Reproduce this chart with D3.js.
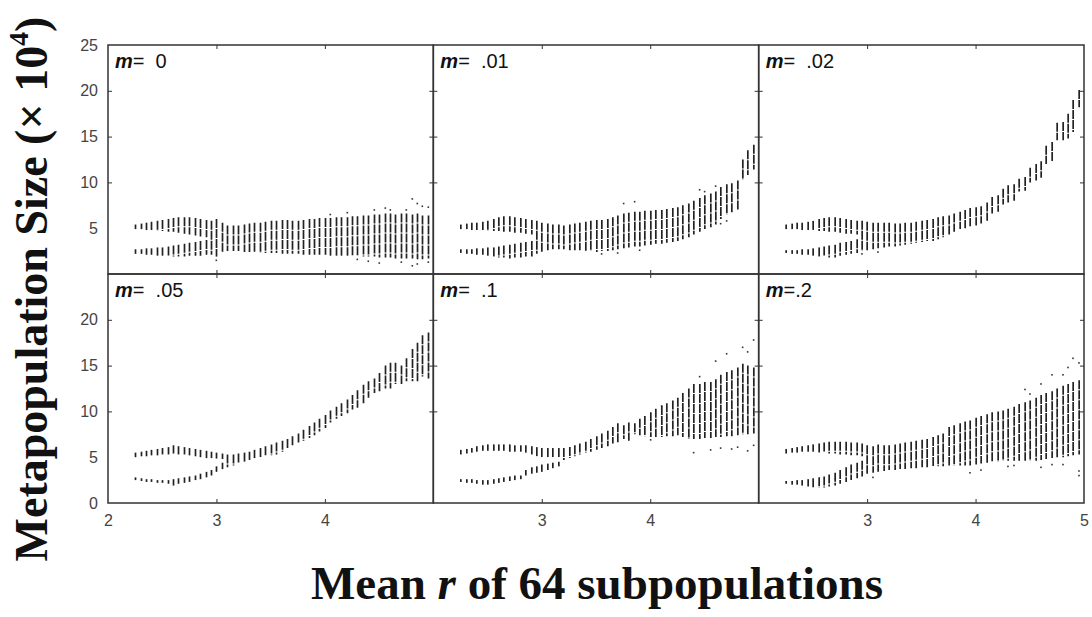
<!DOCTYPE html>
<html>
<head>
<meta charset="utf-8">
<script src="https://cdn.jsdelivr.net/npm/d3@7"></script>
<style>
	body { margin: 0; background: #fff; }
	.tick text { font-family: "Liberation Sans", Arial, sans-serif; font-size: 16px; fill: #444; }
	.tick line { stroke: #333; }
</style>
</head>
<body>
<svg id="chart" width="1092" height="617"></svg>
<script>

// mean r of the 64 subpopulations, one bar per value
const rValues = [2.25,2.30,2.35,2.40,2.45,2.50,2.55,2.60,2.65,2.70,2.75,2.80,2.85,2.90,2.95,3.00,3.05,3.10,3.15,3.20,3.25,3.30,3.35,3.40,3.45,3.50,3.55,3.60,3.65,3.70,3.75,3.80,3.85,3.90,3.95,4.00,4.05,4.10,4.15,4.20,4.25,4.30,4.35,4.40,4.45,4.50,4.55,4.60,4.65,4.70,4.75,4.80,4.85,4.90,4.95];

const migrationLabels = ['0', '.01', '.02', '.05', '.1', '.2'];

// m = 0
const m0Hi = [5.4,5.5,5.6,5.7,5.8,5.9,6.0,6.1,6.2,6.2,6.2,6.1,6.0,5.9, 5.8,6.0,5.6,5.3,5.3,5.3,5.4, 5.5,5.6,5.6,5.7,5.8,5.8,5.9,5.9,5.8,5.8,5.9,6.0,6.0,6.1, 6.1,6.1,6.2,6.2,6.2,6.3,6.3,6.4,6.4,6.5, 6.5,6.6,6.6,6.5,6.6,6.6,6.5,6.6,6.4,6.4];
const m0Lo = [2.2,2.2,2.1,2.1,2.0,2.0,2.0,1.9,1.9,1.9,2.0,2.0,2.0,2.1, 2.1,1.9,2.4,2.5,2.5,2.5,2.4, 2.4,2.4,2.3,2.3,2.3,2.3,2.2,2.2,2.2,2.2,2.1,2.1,2.1,2.1, 2.1,2.0,2.0,2.0,2.0,2.0,2.0,1.9,1.9,1.9, 1.8,1.8,1.8,1.7,1.7,1.7,1.7,1.6,1.6,1.7];
const m0GapTop = [4.9,4.9,4.8,4.8,4.7,4.7,4.6,4.6,4.5,4.4,4.3,4.2,4.1,4.0];
const m0GapBottom = [2.7,2.7,2.8,2.8,2.9,2.9,3.0,3.1,3.2,3.3,3.4,3.5,3.6,3.7];
const m0Dots = [[4.05,6.5],[4.2,6.7],[4.45,7.0],[4.55,7.2],[4.6,7.0],[4.75,7.0],[4.8,8.2],[4.85,7.7],[4.9,7.4],[4.95,7.3],[3.0,1.5],[4.3,1.6],[4.4,1.4],[4.5,1.2],[4.7,1.3],[4.85,1.1],[4.8,0.9],[4.95,1.3]];

// m = .01
const m01Hi = [5.4,5.5,5.6,5.6,5.7,5.8,6.0,6.2,6.3,6.3,6.2,6.1,6.0,5.9, 5.8,5.6,5.5,5.4,5.4,5.3,5.4, 5.5,5.6,5.7,5.8,5.9,5.9,6.0, 6.2,6.4,6.6,6.7,6.8,6.8,6.9,6.9, 7.0,7.0,7.1,7.2,7.3,7.5,7.7, 8.0,8.3,8.6,8.8,9.0, 9.5,9.8,9.9,10.2, 12.5,13.5,14.1];
const m01Lo = [2.3,2.2,2.2,2.1,2.1,2.0,1.9,1.8,1.8,1.7,1.8,1.8,1.9,1.9, 2.2,2.4,2.6,2.7,2.7,2.7,2.6, 2.6,2.6,2.5,2.5,2.4,2.5,2.5, 2.6,2.7,2.8,2.9,3.0,3.0,3.1,3.2, 3.3,3.3,3.4,3.5,3.6,3.8,4.0, 4.3,4.6,4.9,5.1,5.4, 6.0,6.5,6.7,7.0, 10.3,10.8,11.4];
const m01GapTop = [4.9,4.9,4.8,4.8,4.8,4.7,4.7,4.7,4.6,4.6,4.5,4.5,4.4,4.3];
const m01GapBottom = [2.7,2.7,2.7,2.8,2.8,2.9,2.9,3.0,3.1,3.2,3.3,3.4,3.5,3.6];
const m01Dots = [[3.75,7.7],[3.85,7.9],[4.45,9.2],[4.5,9.0],[4.6,9.6],[4.65,5.5],[4.7,5.8],[3.55,2.2],[3.7,2.3],[3.9,2.6]];

// m = .02
const m02Hi = [5.4,5.5,5.6,5.6,5.7,5.8,6.0,6.1,6.2,6.2,6.1,6.0,5.9,5.8, 5.8,5.7,5.6,5.6,5.6,5.6,5.5, 5.5,5.6,5.6,5.7,5.8,5.9,6.0, 6.2,6.3,6.4,6.6,6.8,7.0,7.2, 7.3,7.4,7.8,8.4,8.6,9.3, 9.7,9.8,10.4,10.6,11.6,12.0, 12.3,14.0,14.4,16.5, 16.6,17.5,19.0,20.1];
const m02Lo = [2.3,2.2,2.2,2.1,2.1,2.0,1.9,1.9,1.8,1.8,2.0,2.1,2.2,2.3, 2.5,2.6,2.7,2.8,2.9,3.0,3.0, 3.1,3.2,3.3,3.4,3.5,3.6,3.6, 3.8,4.0,4.3,4.6,4.9,5.0,5.2, 5.3,5.5,5.8,6.6,6.8,7.6, 7.8,8.0,9.0,9.1,10.0,10.2, 10.5,12.0,12.3,14.6, 14.6,14.8,15.5,18.2];
const m02GapTop = [4.9,4.9,4.9,4.8,4.8,4.8,4.7,4.7,4.6,4.6,4.5,4.4,4.4,4.3];
const m02GapBottom = [2.6,2.6,2.6,2.7,2.7,2.8,2.9,3.0,3.1,3.2,3.4,3.5,3.6,3.8];
const m02Dots = [[2.95,2.2],[3.1,2.4]];

// m = .05
const m05Hi = [5.5,5.6,5.7,5.8,5.9,6.0,6.1,6.3,6.2,6.1,6.0,5.9,5.8,5.7,5.6,5.5,5.4, 5.3,5.3,5.4,5.5,5.6,5.8, 6.0,6.2,6.4,6.6,6.8,7.0, 7.3,7.6,8.0,8.4,8.8,9.2, 9.6,10.1,10.5,10.9,11.3,11.8, 12.3,12.9,13.3,13.6,14.2,15.0, 15.3,15.3,15.0,15.8, 16.8,17.5,18.3,18.6];
const m05Lo = [2.5,2.4,2.3,2.3,2.2,2.2,2.1,1.9,2.1,2.2,2.3,2.5,2.6,2.8,3.0,3.4,3.7, 3.9,4.1,4.3,4.5,4.7,4.9, 5.0,5.1,5.2,5.3,5.6,5.9, 6.2,6.5,6.8,7.1,7.4,7.8, 8.2,8.8,9.2,9.5,9.8,10.2, 10.4,10.9,11.5,12.0,12.2,12.5, 12.5,13.0,13.0,13.3, 13.3,13.3,13.8,13.6];
const m05GapTop = [5.0,5.1,5.1,5.2,5.2,5.3,5.3,5.4,5.3,5.3,5.2,5.1,5.0,4.9,4.9,4.85,4.8];
const m05GapBottom = [2.8,2.7,2.6,2.6,2.5,2.5,2.5,2.6,2.7,2.8,2.9,3.0,3.2,3.4,3.6,4.0,4.4];
const m05Dots = [];

// m = .1
const m1Hi = [5.8,5.9,6.0,6.2,6.3,6.4,6.4,6.4,6.4,6.4,6.3,6.3,6.3,6.2,6.1,6.0,6.0,6.0,6.0, 6.0,6.1,6.3,6.5,6.7,7.0, 7.3,7.6,7.9,8.3,8.7,8.5, 8.8,8.7,9.2,9.5,9.9, 10.3,10.6,10.9,11.2,11.5, 12.0,12.5,13.0,13.0,13.2,13.2, 13.5,14.0,14.3,14.5,14.8,15.2,15.0,14.8];
const m1Lo = [2.3,2.2,2.2,2.1,2.0,2.0,2.1,2.2,2.3,2.4,2.5,2.6,3.0,3.2,3.3,3.4,3.6,3.8,4.0, 4.7,4.9,5.1,5.3,5.5,5.6, 5.8,6.0,6.2,6.5,6.6,7.0, 6.8,7.5,7.4,7.3,7.2, 7.2,7.2,7.3,7.3,7.4, 7.2,7.0,7.0,7.0,7.1,7.1, 7.2,7.2,7.3,7.3,7.4,7.5,7.5,7.6];
const m1GapTop = [5.3,5.4,5.5,5.6,5.7,5.7,5.7,5.7,5.7,5.6,5.6,5.6,5.5,5.3,5.1,5.0,5.0,5.0,5.0];
const m1GapBottom = [2.6,2.6,2.6,2.5,2.5,2.5,2.6,2.7,2.8,2.9,3.0,3.0,3.6,3.9,4.0,4.2,4.3,4.4,4.5];
const m1Dots = [[4.0,6.9],[4.1,10.6],[4.4,5.5],[4.45,13.8],[4.55,5.8],[4.6,15.5],[4.65,6.0],[4.7,16.3],[4.75,5.9],[4.8,6.1],[4.85,17.0],[4.9,5.7],[4.9,16.5],[4.95,17.8],[4.95,6.3]];

// m = .2
const m2Hi = [5.9,6.0,6.1,6.2,6.3,6.4,6.5,6.6,6.7,6.7,6.7,6.7,6.6,6.6,6.5, 6.3,6.2,6.4,6.3,6.3,6.4, 6.5,6.6,6.7,6.8,6.9,7.0, 7.2,7.4,7.6,8.3,8.5,8.7, 8.9,9.0,9.3,9.5,9.7,9.9, 10.0,10.1,10.3,10.5,10.8,11.0, 11.2,11.5,11.8,12.0,12.2,12.5, 12.8,13.0,13.2,13.4];
const m2Lo = [2.1,2.0,2.0,1.9,1.8,1.7,1.7,1.7,1.8,1.9,2.1,2.3,2.5,2.7,2.9, 3.2,3.3,3.4,3.5,3.6,3.6, 3.7,3.7,3.8,3.8,3.9,3.9, 4.0,4.0,4.0,4.1,4.1,4.1, 4.1,4.1,4.2,4.3,4.4,4.5, 4.5,4.6,4.6,4.6,4.6,4.6, 4.6,4.6,4.7,4.8,4.9,5.0, 5.0,5.1,5.2,5.3];
const m2GapTop = [5.4,5.5,5.5,5.6,5.6,5.6,5.5,5.5,5.4,5.4,5.3,5.3,5.2,5.2,5.1];
const m2GapBottom = [2.4,2.4,2.5,2.5,2.6,2.7,2.8,2.9,3.1,3.3,3.6,3.9,4.2,4.4,4.6];
const m2Dots = [[3.05,2.8],[3.95,3.3],[4.05,3.6],[4.3,4.0],[4.35,4.1],[4.45,12.4],[4.5,11.9],[4.6,13.0],[4.6,3.9],[4.7,14.0],[4.7,4.2],[4.8,14.0],[4.8,4.2],[4.85,14.8],[4.9,15.8],[4.95,15.3],[4.95,3.0],[4.95,3.5]];

// axis ticks
const yTicksTop = [5, 10, 15, 20, 25];
const yTicksBottom = [0, 5, 10, 15, 20];
const xTickLabels = [[2, 3, 4], [3, 4], [3, 4, 5]];


class BifurcationGrid {

	/**
	* constructor function
	* @param {string} chartSelector The selector for the svg
	* @param {array} panels list of panel objects {label, hi, lo, gapTop, gapBottom, dots}
	* @returns {undefined}
	*/
	constructor(chartSelector, panels) {
		this.svg = d3.select(chartSelector);
		this.panels = panels;
		this.left = 108;
		this.top = 45;
		this.panelW = (1084 - 108) / 3;
		this.panelH = 229;

		this.xScale = d3.scaleLinear().domain([2, 5]).range([0, this.panelW]);
		this.yScale = d3.scaleLinear().domain([0, 25]).range([this.panelH, 0]);

		this.createChart();
	}


	/**
	* draw the bars (and the two bands before they merge) of one panel
	* @returns {undefined}
	*/
	_addBars(g, panel) {
		const x = this.xScale,
			y = this.yScale;
		let segments = [];

		rValues.forEach((r, i) => {
			if (i < panel.gapTop.length) {
				segments.push({r: r, from: panel.hi[i], to: panel.gapTop[i]});
				segments.push({r: r, from: panel.gapBottom[i], to: panel.lo[i]});
			} else {
				segments.push({r: r, from: panel.hi[i], to: panel.lo[i]});
			}
		});

		// the original bars are columns of sampled points, hence the small breaks
		g.append('g')
			.selectAll('line')
			.data(segments)
			.enter()
			.append('line')
			.attr('x1', (d) => Math.round(x(d.r)) + 0.5)
			.attr('x2', (d) => Math.round(x(d.r)) + 0.5)
			.attr('y1', (d) => y(d.from))
			.attr('y2', (d) => y(d.to))
			.attr('stroke', '#222')
			.attr('stroke-width', 1.7)
			.attr('stroke-dasharray', '9,1');

		g.append('g')
			.selectAll('rect')
			.data(panel.dots)
			.enter()
			.append('rect')
			.attr('x', (d) => Math.round(x(d[0])) - 0.5)
			.attr('y', (d) => y(d[1]) - 0.75)
			.attr('width', 1.6)
			.attr('height', 1.6)
			.attr('fill', '#333');
	};


	/**
	* frame, inward ticks and tick labels of one panel
	* @returns {undefined}
	*/
	_addAxes(g, row, col) {
		const w = this.panelW,
			h = this.panelH,
			yTicks = row === 0 ? yTicksTop : yTicksBottom;

		let left = d3.axisLeft(this.yScale).tickValues(yTicks).tickSizeInner(-4).tickSizeOuter(0).tickPadding(10);
		if (col > 0) {
			left.tickFormat('');
		}
		g.append('g').call(left);

		g.append('g')
			.attr('transform', 'translate(' + w + ',0)')
			.call(d3.axisRight(this.yScale).tickValues(yTicks).tickSize(-4).tickFormat(''));

		g.append('g')
			.call(d3.axisTop(this.xScale).tickValues([3, 4]).tickSize(-4).tickFormat(''));

		let bottom = d3.axisBottom(this.xScale).tickSizeInner(-4).tickSizeOuter(0).tickPadding(12);
		if (row === 1) {
			bottom.tickValues(xTickLabels[col]).tickFormat(d3.format('d'));
		} else {
			bottom.tickValues([3, 4]).tickFormat('');
		}
		g.append('g')
			.attr('transform', 'translate(0,' + h + ')')
			.call(bottom);

		// the labels at the panel edges get no tick line
		g.selectAll('.tick').filter((d) => d === 2 || d === 5 || d === 0 || d === 25).select('line').remove();
		g.selectAll('.domain').remove();

		g.append('rect')
			.attr('width', w)
			.attr('height', h)
			.attr('fill', 'none')
			.attr('stroke', '#333')
			.attr('stroke-width', 1.5);
	};


	/**
	* "m= .01" label in the top left corner
	* @returns {undefined}
	*/
	_addLabel(g, label) {
		let text = g.append('text')
			.attr('x', 7)
			.attr('y', 23)
			.attr('xml:space', 'preserve')
			.style('font-family', '"Liberation Sans", Arial, sans-serif')
			.style('font-size', '20px')
			.style('fill', '#111');

		text.append('tspan')
			.style('font-style', 'italic')
			.style('font-weight', 'bold')
			.text('m');
		text.append('tspan')
			.text(label === '.2' ? '=.' + '2' : '=  ' + label);
	};


	/**
	* axis titles
	* @returns {undefined}
	*/
	_addTitles() {
		let yTitle = this.svg.append('text')
			.attr('transform', 'translate(47,289) rotate(-90)')
			.attr('text-anchor', 'middle')
			.style('font-family', '"Liberation Serif", "Times New Roman", serif')
			.style('font-weight', 'bold')
			.style('font-size', '46px')
			.style('fill', '#111');
		yTitle.append('tspan').text('Metapopulation Size (\u00d7 10');
		yTitle.append('tspan').attr('dy', -19).style('font-size', '28px').text('4');
		yTitle.append('tspan').attr('dy', 19).text(')');

		let xTitle = this.svg.append('text')
			.attr('x', 597)
			.attr('y', 599)
			.attr('text-anchor', 'middle')
			.attr('xml:space', 'preserve')
			.style('font-family', '"Liberation Serif", "Times New Roman", serif')
			.style('font-weight', 'bold')
			.style('font-size', '47px')
			.style('fill', '#111');
		xTitle.append('tspan').text('Mean ');
		xTitle.append('tspan').style('font-style', 'italic').text('r');
		xTitle.append('tspan').text(' of 64 subpopulations');
	};


	/**
	* build all six panels
	* @returns {undefined}
	*/
	createChart() {
		this.panels.forEach((panel, k) => {
			let row = Math.floor(k / 3),
				col = k % 3;
			let g = this.svg.append('g')
				.attr('transform', 'translate(' + (this.left + col * this.panelW) + ',' + (this.top + row * this.panelH) + ')');

			this._addBars(g, panel);
			this._addAxes(g, row, col);
			this._addLabel(g, panel.label);
		});
		this._addTitles();
	};

}


const panels = [
	{label: migrationLabels[0], hi: m0Hi, lo: m0Lo, gapTop: m0GapTop, gapBottom: m0GapBottom, dots: m0Dots},
	{label: migrationLabels[1], hi: m01Hi, lo: m01Lo, gapTop: m01GapTop, gapBottom: m01GapBottom, dots: m01Dots},
	{label: migrationLabels[2], hi: m02Hi, lo: m02Lo, gapTop: m02GapTop, gapBottom: m02GapBottom, dots: m02Dots},
	{label: migrationLabels[3], hi: m05Hi, lo: m05Lo, gapTop: m05GapTop, gapBottom: m05GapBottom, dots: m05Dots},
	{label: migrationLabels[4], hi: m1Hi, lo: m1Lo, gapTop: m1GapTop, gapBottom: m1GapBottom, dots: m1Dots},
	{label: migrationLabels[5], hi: m2Hi, lo: m2Lo, gapTop: m2GapTop, gapBottom: m2GapBottom, dots: m2Dots}
];

new BifurcationGrid('#chart', panels);

</script>
</body>
</html>
